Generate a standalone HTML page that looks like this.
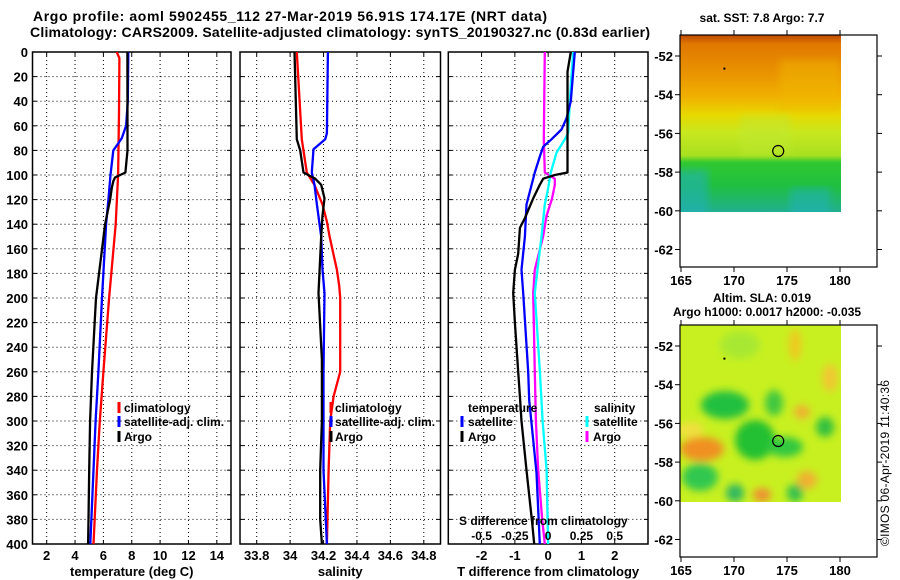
<!DOCTYPE html>
<html><head><meta charset="utf-8"><style>
html,body{margin:0;padding:0;background:#fff;}
svg{display:block;font-family:"Liberation Sans",Arial,sans-serif;font-weight:bold;}
</style></head><body>
<svg id="fig" width="900" height="580" viewBox="0 0 900 580">
<defs>
<linearGradient id="sstGrad" x1="0" y1="0" x2="0" y2="1">
<stop offset="0" stop-color="#c04800"/><stop offset="0.05" stop-color="#e07800"/>
<stop offset="0.2" stop-color="#e89000"/><stop offset="0.35" stop-color="#f0b000"/>
<stop offset="0.45" stop-color="#e8d800"/><stop offset="0.55" stop-color="#c8e820"/>
<stop offset="0.68" stop-color="#a8e020"/><stop offset="0.72" stop-color="#30c830"/>
<stop offset="0.85" stop-color="#20c040"/><stop offset="1" stop-color="#20b090"/>
</linearGradient>
<filter id="blur4"><feGaussianBlur stdDeviation="4"/></filter>
<clipPath id="sstClip"><rect x="680" y="35" width="161" height="177"/></clipPath>
<clipPath id="slaClip"><rect x="680" y="325" width="161" height="177"/></clipPath>
</defs>
<text x="290" y="21" text-anchor="middle" font-size="14" textLength="514">Argo profile: aoml 5902455_112 27-Mar-2019 56.91S 174.17E (NRT data)</text>
<text x="340" y="37" text-anchor="middle" font-size="14" textLength="620">Climatology: CARS2009. Satellite-adjusted climatology: synTS_20190327.nc (0.83d earlier)</text>
<g id="panels"></g>
<g id="maps"></g>
<text transform="translate(889,546) rotate(-90)" font-size="12" font-weight="normal" textLength="166">©IMOS 06-Apr-2019 11:40:36</text>
</svg>
<script>
// ---- data: temperature panel ----
const climTDepth=[0,5,50,100,140,200,260,300,340,400];
const climT=[6.94,7.13,7.1,7.04,6.87,6.4,6.0,5.75,5.55,5.3];
const satTDepth=[0,40,60,70,75,80,90,100,120,140,200,260,300,340,400];
const satT=[7.76,7.72,7.6,7.3,7.0,6.7,6.6,6.5,6.35,6.19,5.9,5.65,5.45,5.3,5.08];
const argoTDepth=[0,80,98,102,105,110,120,140,200,260,300,340,380,400];
const argoT=[7.69,7.7,7.55,6.82,6.7,6.6,6.47,6.12,5.48,5.2,5.06,5.0,4.95,4.92];
// ---- data: salinity panel ----
const argoSDepth=[0,71,80,98,103,108,119,133,150,196,250,300,340,380,400];
const argoS=[34.026,34.04,34.06,34.08,34.15,34.186,34.206,34.194,34.186,34.17,34.19,34.19,34.18,34.18,34.19];
const climSDepth=[0,71,98,108,124,138,150,165,177,190,200,260,280,300,340,400];
const climS=[34.04,34.07,34.10,34.145,34.194,34.22,34.236,34.26,34.28,34.294,34.3,34.3,34.26,34.24,34.23,34.22];
const satSDepth=[0,66,71,79,98,108,124,150,177,196,260,340,400];
const satS=[34.226,34.22,34.21,34.14,34.13,34.146,34.16,34.186,34.194,34.206,34.2,34.2,34.22];
// ---- data: difference panel ----
const dTsatDepth=[0,40,54,63,71,77,85,98,124,150,177,196,260,283,342,400];
const dTsat=[0.8,0.68,0.55,0.4,0.1,-0.15,-0.25,-0.4,-0.65,-0.7,-0.8,-0.75,-0.6,-0.57,-0.35,-0.25];
const dTargoDepth=[0,16,98,100,103,108,119,135,143,164,177,196,220,260,280,300,340,383,400];
const dTargo=[0.68,0.58,0.58,0.2,-0.15,-0.25,-0.45,-0.7,-0.85,-0.9,-1.0,-1.05,-1.0,-0.9,-0.85,-0.8,-0.65,-0.48,-0.42];
const dSsatDepth=[0,27,66,71,82,98,111,124,150,172,196,260,300,340,400];
const dSsat=[0.188,0.17,0.15,0.125,0.062,0.02,0,-0.025,-0.05,-0.075,-0.1,-0.062,-0.042,-0.012,0];
const dSargoDepth=[0,71,98,103,108,119,133,150,177,196,260,300,340,380,400];
const dSargo=[-0.025,-0.033,-0.025,0.05,0.05,0.03,-0.012,-0.038,-0.1,-0.112,-0.1,-0.092,-0.075,-0.045,-0.025];
// ---- ticks ----
const depthTicks=[0,20,40,60,80,100,120,140,160,180,200,220,240,260,280,300,320,340,360,380,400];
const tTicks=[2,4,6,8,10,12,14];
const sTicks=[33.8,34,34.2,34.4,34.6,34.8];
const dTicks=[-2,-1,0,1,2];
const sdTicks=[-0.5,-0.25,0,0.25,0.5];
const sdTickLabels=["-0.5","-0.25","0","0.25","0.5"];
const latTicks=[-52,-54,-56,-58,-60,-62];
const lonTicks=[165,170,175,180];

const NS="http://www.w3.org/2000/svg";
function el(tag,attrs,parent,text){const e=document.createElementNS(NS,tag);for(const k in attrs)e.setAttribute(k,attrs[k]);if(text!==undefined)e.textContent=text;parent.appendChild(e);return e;}
const yD=d=>52+d*1.23;
const P=document.getElementById('panels');

function panel(name,x0,x1,vmin,vmax,ticks,labels,title){
  const g=el('g',{},P);
  
  
  const xs=v=>x0+(v-vmin)/(vmax-vmin)*(x1-x0);
  depthTicks.forEach(d=>{
    if(d>0&&d<400){const l=el('line',{x1:x0,x2:x1,y1:yD(d),y2:yD(d),stroke:'#000','stroke-width':1,'stroke-dasharray':'1,3'},g);
    }
    el('line',{x1:x0,x2:x0+4,y1:yD(d),y2:yD(d),stroke:'#000'},g);
    el('line',{x1:x1-4,x2:x1,y1:yD(d),y2:yD(d),stroke:'#000'},g);
    if(name==='temperature-panel'){const t=el('text',{x:28,y:yD(d)+5,'text-anchor':'end','font-size':13},g,String(d));
      }
  });
  ticks.forEach((v,i)=>{
    const l=el('line',{x1:xs(v),x2:xs(v),y1:52,y2:544,stroke:'#000','stroke-width':1,'stroke-dasharray':'1,3'},g);
    
    el('line',{x1:xs(v),x2:xs(v),y1:544,y2:540,stroke:'#000'},g);
    el('line',{x1:xs(v),x2:xs(v),y1:52,y2:56,stroke:'#000'},g);
    const t=el('text',{x:xs(v),y:560,'text-anchor':'middle','font-size':13},g,labels[i]);
    
  });
  const b=el('rect',{x:x0,y:52,width:x1-x0,height:492,fill:'none',stroke:'#000','stroke-width':1.5},g);
  
  const tt=el('text',{x:(x0+x1)/2,y:576,'text-anchor':'middle','font-size':13},g,title);
  
  return {g,xs};
}
function series(p,depths,vals,color,name,scale){
  const pts=depths.map((d,i)=>p.xs(vals[i]*(scale||1)).toFixed(1)+','+yD(d).toFixed(1)).join(' ');
  const l=el('polyline',{points:pts,fill:'none',stroke:color,'stroke-width':2.3,'stroke-linejoin':'round'},p.g);
  
  
}
function legend(g,x,y,color,label,tx){
  if(color){const m=el('line',{x1:x,x2:x,y1:y-10,y2:y+1,stroke:color,'stroke-width':3},g);
    }
  const t=el('text',{x:tx,y:y,'font-size':12},g,label);
  
}

const p1=panel('temperature-panel',32.5,231,1,15,tTicks,tTicks.map(String),'temperature (deg C)');
series(p1,climTDepth,climT,'#ff0000','climatology-line');
series(p1,satTDepth,satT,'#0000ff','satellite-adj-line');
series(p1,argoTDepth,argoT,'#000000','argo-line');
legend(p1.g,119,412,'#ff0000','climatology',124);
legend(p1.g,119,426,'#0000ff','satellite-adj. clim.',124);
legend(p1.g,119,441,'#000000','Argo',124);

const p2=panel('salinity-panel',240,440.5,33.7,34.9,sTicks,sTicks.map(v=>v.toFixed(1).replace('.0','')),'salinity');
series(p2,climSDepth,climS,'#ff0000','salinity-climatology-line');
series(p2,satSDepth,satS,'#0000ff','salinity-satellite-line');
series(p2,argoSDepth,argoS,'#000000','salinity-argo-line');
legend(p2.g,331,412,'#ff0000','climatology',335);
legend(p2.g,331,426,'#0000ff','satellite-adj. clim.',335);
legend(p2.g,331,441,'#000000','Argo',335);

const p3=panel('difference-panel',448.3,648,-3,3,dTicks,dTicks.map(String),'T difference from climatology');
series(p3,dSargoDepth,dSargo,'#ff00ff','s-diff-argo-line',4);
series(p3,dSsatDepth,dSsat,'#00ffff','s-diff-satellite-line',4);
series(p3,dTsatDepth,dTsat,'#0000ff','t-diff-satellite-line');
series(p3,dTargoDepth,dTargo,'#000000','t-diff-argo-line');
legend(p3.g,null,412,null,'temperature',468);
legend(p3.g,462,426,'#0000ff','satellite',468);
legend(p3.g,462,441,'#000000','Argo',468);
legend(p3.g,null,412,null,'salinity',594);
legend(p3.g,587,426,'#00ffff','satellite',593);
legend(p3.g,587,441,'#ff00ff','Argo',593);
const sdt=el('text',{x:459,y:525,'font-size':12},p3.g,'S difference from climatology');

sdTicks.forEach((v,i)=>{const t=el('text',{x:p3.xs(v*4),y:540,'text-anchor':'middle','font-size':12},p3.g,sdTickLabels[i]);
  });

// ---- maps ----
const M=document.getElementById('maps');
function mapAxes(name,top){
  const g=el('g',{},M);
  
  
  const lx=v=>681+(v-165)*10.6;
  const ly=v=>top+21+(-52-v)*19.35;
  const box={x0:680,x1:877,y0:top,y1:top+232};
  return {g,lx,ly,box};
}
function finishMap(m){
  const g=m.g;
  el('rect',{x:m.box.x0,y:m.box.y0,width:m.box.x1-m.box.x0,height:m.box.y1-m.box.y0,fill:'none',stroke:'#000','stroke-width':1.2},g);
  latTicks.forEach(v=>{
    el('line',{x1:m.box.x0-5,x2:m.box.x0,y1:m.ly(v),y2:m.ly(v),stroke:'#000'},g);
    el('line',{x1:m.box.x1,x2:m.box.x1+5,y1:m.ly(v),y2:m.ly(v),stroke:'#000'},g);
    const t=el('text',{x:m.box.x0-7,y:m.ly(v)+5,'text-anchor':'end','font-size':13},g,String(v));
    
  });
  lonTicks.forEach(v=>{
    el('line',{x1:m.lx(v),x2:m.lx(v),y1:m.box.y1,y2:m.box.y1+5,stroke:'#000'},g);
    el('line',{x1:m.lx(v),x2:m.lx(v),y1:m.box.y0-5,y2:m.box.y0,stroke:'#000'},g);
    const t=el('text',{x:m.lx(v),y:m.box.y1+18,'text-anchor':'middle','font-size':13},g,String(v));
    
  });
  const c=el('circle',{cx:m.lx(174.17),cy:m.ly(-56.91),r:5.5,fill:'none',stroke:'#000','stroke-width':1.2},g);
  
  el('rect',{x:m.lx(169),y:m.ly(-52.6),width:2,height:2,fill:'#000'},g);
}
// SST map
const m1=mapAxes('sst-map',35);
const sstG=el('g',{'clip-path':'url(#sstClip)'},m1.g);

el('rect',{x:680,y:35,width:161,height:177,fill:'url(#sstGrad)'},sstG);
el('rect',{x:672,y:170,width:36,height:50,fill:'#20b0b8',opacity:0.6,filter:'url(#blur4)'},sstG);
el('rect',{x:790,y:188,width:40,height:30,fill:'#20b0c0',opacity:0.5,filter:'url(#blur4)'},sstG);
el('rect',{x:780,y:60,width:60,height:50,fill:'#f0b800',opacity:0.5,filter:'url(#blur4)'},sstG);
el('rect',{x:740,y:115,width:50,height:40,fill:'#c0e830',opacity:0.5,filter:'url(#blur4)'},sstG);
finishMap(m1);
const st=el('text',{x:762,y:22,'text-anchor':'middle','font-size':12},m1.g,'sat. SST: 7.8 Argo: 7.7');

// SLA map
const m2=mapAxes('sla-map',325);
const slaG=el('g',{'clip-path':'url(#slaClip)'},m2.g);

el('rect',{x:680,y:325,width:161,height:177,fill:'#c8f020'},slaG);
const cl=el('g',{filter:'url(#blur4)'},slaG);
[[725,405,24,14,'#20c040'],[755,440,20,20,'#20c030'],[785,447,18,10,'#30c840'],[774,403,9,13,'#40c840'],
 [825,427,9,10,'#30c040'],[700,477,18,14,'#30c850'],[735,493,9,9,'#30b860'],[795,493,8,9,'#30c050'],
 [702,449,22,12,'#f09020'],[762,495,9,7,'#f09030'],[807,480,10,9,'#f0b030'],[795,345,6,16,'#f0c820'],
 [830,378,8,14,'#f0c830'],[802,412,8,7,'#f0b030'],[740,345,20,14,'#a8e830'],[690,430,14,8,'#f0e040']].forEach(a=>{
  el('ellipse',{cx:a[0],cy:a[1],rx:a[2],ry:a[3],fill:a[4]},cl);});
finishMap(m2);
const s1=el('text',{x:762,y:302,'text-anchor':'middle','font-size':12},m2.g,'Altim. SLA: 0.019');

const s2=el('text',{x:767,y:316,'text-anchor':'middle','font-size':12},m2.g,'Argo h1000: 0.0017 h2000: -0.035');

</script>
</body></html>
